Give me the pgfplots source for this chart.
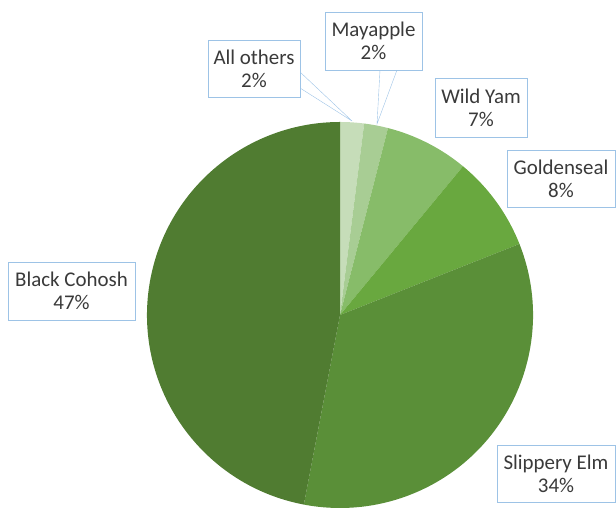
\documentclass[border=0pt]{standalone}
\usepackage{pgfplots}
\pgfplotsset{compat=1.18}
\usepackage{fontspec}
\setmainfont{Carlito}

\definecolor{cOthers}{HTML}{C6DDB9}
\definecolor{cMay}{HTML}{A8CD94}
\definecolor{cYam}{HTML}{87BC69}
\definecolor{cGold}{HTML}{69A83F}
\definecolor{cElm}{HTML}{5A8F38}
\definecolor{cCohosh}{HTML}{507C31}
\definecolor{boxc}{HTML}{9DC3E6}
\definecolor{txt}{HTML}{3A3A3A}

% slice: start (%), share (%), colour -- clockwise from 12 o'clock
\newcommand\slice[3]{%
  \fill[#3] (axis cs:340,195) -- ++({90-3.6*#1}:193bp)
    arc[start angle={90-3.6*#1}, end angle={90-3.6*(#1+#2)}, radius=193bp] -- cycle;}
% label box: x1, x2, y1, y2, centre x, centre y, text
\newcommand\lbl[7]{%
  \draw[boxc, fill=white] (axis cs:#1,#3) rectangle (axis cs:#2,#4);
  \node[txt, align=center, font=\fontsize{21}{23}\selectfont] at (axis cs:#5,#6) {#7};}

\begin{document}
\begin{tikzpicture}
\begin{axis}[
    width=616bp, height=510bp,
    scale only axis,
    xmin=0, xmax=616, ymin=0, ymax=510,
    hide axis,
    clip=false
]
\coordinate (ll) at (axis cs:0,0);
\coordinate (ur) at (axis cs:616,510);

\slice{0}{2}{cOthers}
\slice{2}{2}{cMay}
\slice{4}{7}{cYam}
\slice{11}{8}{cGold}
\slice{19}{34}{cElm}
\slice{53}{47}{cCohosh}

% callout pointers
\draw[boxc] (axis cs:300,438) -- (axis cs:352,389) -- (axis cs:300,422);
\draw[boxc] (axis cs:380,440) -- (axis cs:377,386) -- (axis cs:397,440);

\lbl{208}{300}{413}{470}{254}{441.5}{All others\\2\%}
\lbl{325}{422}{440}{498}{373.5}{469}{Mayapple\\2\%}
\lbl{435}{527}{373}{432}{481}{402.5}{Wild Yam\\7\%}
\lbl{507}{615}{303}{360}{561}{331.5}{Goldenseal\\8\%}
\lbl{8}{135}{190}{248}{71.5}{219}{Black Cohosh\\47\%}
\lbl{497}{615}{8}{65}{556}{36.5}{Slippery Elm\\34\%}
\end{axis}
\pgfresetboundingbox
\path (ll) rectangle (ur);
\end{tikzpicture}
\end{document}
